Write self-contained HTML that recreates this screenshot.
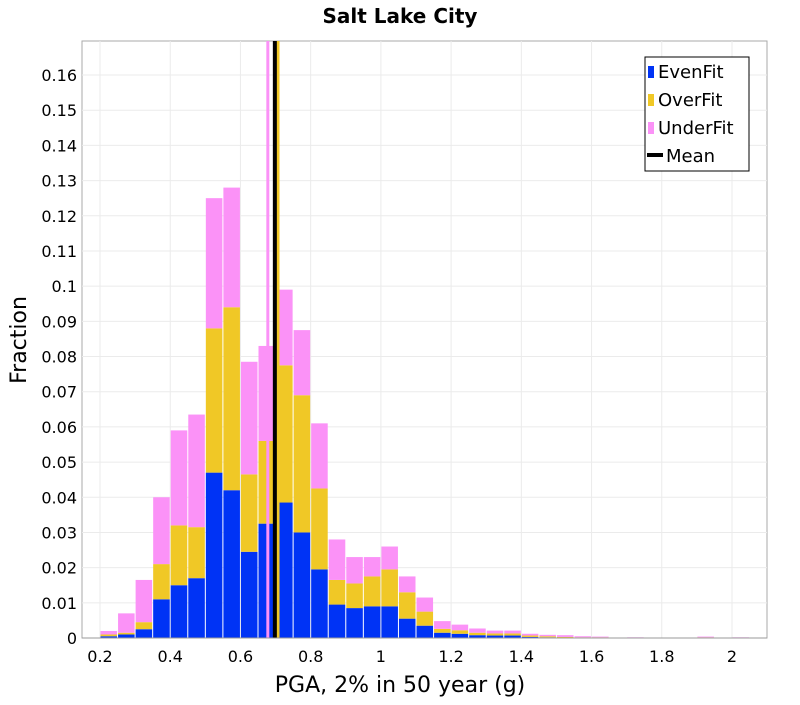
<!DOCTYPE html>
<html><head><meta charset="utf-8"><style>
body{margin:0;background:#fff;}
svg text{font-family:"DejaVu Sans","Liberation Sans",sans-serif;}
</style></head><body>
<svg id="chart" width="800" height="700" xmlns="http://www.w3.org/2000/svg">
<text x="400" y="23" text-anchor="middle" font-size="20" font-weight="bold">Salt Lake City</text>
<rect x="82" y="41" width="685" height="597" fill="#fff" stroke="#aaa"/>
<g id="grid"></g>
<g id="bars"></g>
<g id="means"></g>
<g id="axes"></g>
<text x="400" y="692" text-anchor="middle" font-size="22">PGA, 2% in 50 year (g)</text>
<text transform="translate(26,340) rotate(-90)" text-anchor="middle" font-size="22">Fraction</text>
<g>
<rect x="645" y="57" width="104" height="114" fill="#fff" stroke="#000"/>
<rect x="648" y="66" width="6" height="12" fill="#0033f5"/>
<text x="658" y="78" font-size="18">EvenFit</text>
<rect x="648" y="94" width="6" height="12" fill="#f0c826"/>
<text x="658" y="106" font-size="18">OverFit</text>
<rect x="648" y="122" width="6" height="12" fill="#fb92f7"/>
<text x="658" y="134" font-size="18">UnderFit</text>
<rect x="647" y="153" width="16" height="4" fill="#000"/>
<text x="666" y="162" font-size="18">Mean</text>
</g>
</svg>
<script>
const binStarts=[0.20,0.25,0.30,0.35,0.40,0.45,0.50,0.55,0.60,0.65,0.70,0.75,0.80,0.85,0.90,0.95,1.00,1.05,1.10,1.15,1.20,1.25,1.30,1.35,1.40,1.45,1.50,1.55,1.60,1.65,1.70,1.75,1.80,1.85,1.90,1.95,2.00];
const evenFit=[0.0005,0.001,0.0025,0.011,0.015,0.017,0.047,0.042,0.0245,0.0325,0.0385,0.030,0.0195,0.0095,0.0085,0.009,0.009,0.0055,0.0035,0.0015,0.0012,0.0008,0.0007,0.0007,0.0003,0.0002,0.0001,0.0001,0.0001,0,0,0,0,0,0.0001,0,0];
const overFit=[0.0005,0.0005,0.002,0.010,0.017,0.0145,0.041,0.052,0.022,0.0235,0.039,0.039,0.023,0.007,0.007,0.0085,0.0105,0.0075,0.004,0.0011,0.001,0.0007,0.0006,0.0006,0.0004,0.0003,0.0002,0.0001,0.0001,0,0.0001,0,0,0,0.0001,0,0];
const underFit=[0.001,0.0055,0.012,0.019,0.027,0.032,0.037,0.034,0.032,0.027,0.0215,0.0185,0.0185,0.0115,0.0075,0.0055,0.0065,0.0045,0.004,0.0022,0.0016,0.0012,0.0008,0.0008,0.0005,0.0004,0.0005,0.0003,0.0002,0.0001,0.0001,0.0001,0.0001,0,0.0002,0.0001,0.0002];
const meanValues=[0.678,0.707,0.698];
const meanNames=['mean-underfit','mean-overfit','mean-all'];
const meanColors=['#fb92f7','#f0c826','#000'];
const xTicks=[0.2,0.4,0.6,0.8,1,1.2,1.4,1.6,1.8,2];
const yTicks=[0,0.01,0.02,0.03,0.04,0.05,0.06,0.07,0.08,0.09,0.1,0.11,0.12,0.13,0.14,0.15,0.16];
const binWidth=0.05;

const NS='http://www.w3.org/2000/svg';
const X0=82,X1=767,Y0=638,Y1=41;
function xs(v){return 100+(v-0.2)*(632/1.8);}
function ys(v){return 638-v*(563/0.16);}
function mk(parent,tag,attrs){const e=document.createElementNS(NS,tag);for(const k in attrs)e.setAttribute(k,attrs[k]);parent.appendChild(e);return e;}
const grid=document.getElementById('grid'),bars=document.getElementById('bars'),means=document.getElementById('means'),axes=document.getElementById('axes');
yTicks.forEach(t=>{
  const l=mk(grid,'line',{x1:X0,x2:X1,y1:ys(t),y2:ys(t),stroke:'#ebebeb'});
  
  
  const tx=mk(axes,'text',{x:77,y:ys(t)+6,'text-anchor':'end','font-size':16});
  tx.textContent=String(t);
  
  
});
xTicks.forEach(t=>{
  const l=mk(grid,'line',{x1:xs(t),x2:xs(t),y1:Y1,y2:Y0,stroke:'#ebebeb'});
  
  
  const tx=mk(axes,'text',{x:xs(t),y:662,'text-anchor':'middle','font-size':16});
  tx.textContent=String(t);
  
  
});
binStarts.forEach((b,i)=>{
  const xa=xs(b)+0.5,w=xs(b+binWidth)-xs(b)-1;
  let base=0;
  [[evenFit[i],'#0033f5','bar-evenfit'],[overFit[i],'#f0c826','bar-overfit'],[underFit[i],'#fb92f7','bar-underfit']].forEach(s=>{
    const top=base+s[0];
    if(s[0]>0){
      const r=mk(bars,'rect',{x:xa,y:ys(top),width:w,height:ys(base)-ys(top),fill:s[1]});
      
      
    }
    base=top;
  });
});
meanValues.forEach((m,i)=>{
  const l=mk(means,'line',{x1:xs(m),x2:xs(m),y1:Y1,y2:Y0,stroke:meanColors[i],'stroke-width':i==2?4:3});
  
  
});
mk(axes,'line',{x1:X0,x2:X1,y1:Y0,y2:Y0,stroke:'#999'});
</script>
</body></html>
